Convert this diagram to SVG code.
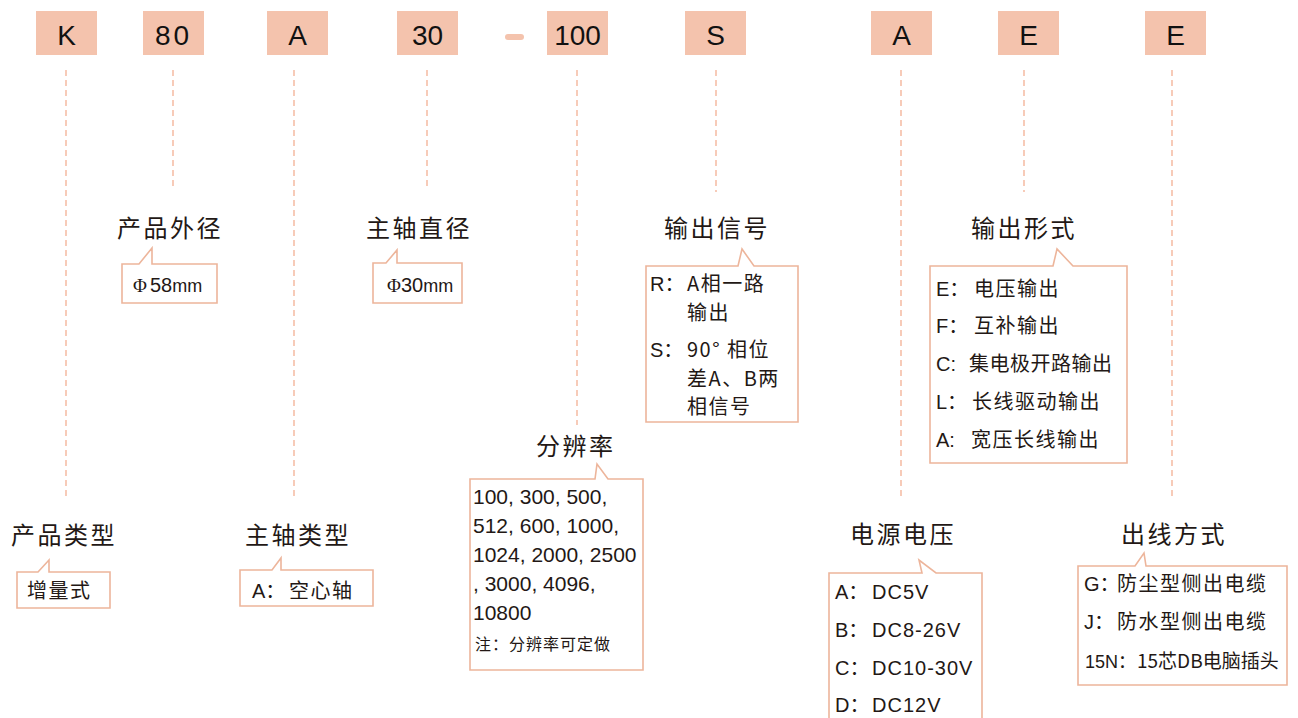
<svg xmlns="http://www.w3.org/2000/svg" width="1298" height="718" viewBox="0 0 1298 718">
<style>
.code{fill:#F4C3AD}
.ct{font-family:"Liberation Sans","DejaVu Sans",sans-serif;font-size:28px;fill:#111;text-anchor:middle}
.dl{stroke:#F2A98A;stroke-width:1.2;stroke-dasharray:6 4;fill:none}
.hd{font-family:"Noto Sans CJK SC","Noto Sans",sans-serif;font-size:24px;fill:#231815;letter-spacing:2.5px}
.cb{fill:#fff;stroke:#EDB59B;stroke-width:1.6}
.tx{font-family:"Liberation Sans","Noto Sans CJK SC",sans-serif;font-size:20px;fill:#231815}
.cj{font-family:"Noto Sans CJK SC","Liberation Sans",sans-serif;font-size:20px;fill:#231815;letter-spacing:1.5px}
.num{font-family:"Liberation Sans",sans-serif;font-size:21px;fill:#231815}
.sm{font-family:"Noto Sans CJK SC",sans-serif;font-size:16px;fill:#231815;letter-spacing:1px}
</style>

<g id="codes">
<rect class="code" x="36" y="11" width="61" height="44"/><text class="ct" x="66.5" y="45">K</text>
<rect class="code" x="143" y="11" width="61" height="44"/><text class="ct" x="173.5" y="45" style="letter-spacing:3px">80</text>
<rect class="code" x="267" y="11" width="61" height="44"/><text class="ct" x="297.5" y="45">A</text>
<rect class="code" x="397" y="11" width="61" height="44"/><text class="ct" x="427.5" y="45">30</text>
<rect class="code" x="505" y="34" width="19" height="6" rx="3"/>
<rect class="code" x="547" y="11" width="61" height="44"/><text class="ct" x="577.5" y="45">100</text>
<rect class="code" x="685" y="11" width="61" height="44"/><text class="ct" x="715.5" y="45">S</text>
<rect class="code" x="871" y="11" width="61" height="44"/><text class="ct" x="901.5" y="45">A</text>
<rect class="code" x="998" y="11" width="61" height="44"/><text class="ct" x="1028.5" y="45">E</text>
<rect class="code" x="1145" y="11" width="61" height="44"/><text class="ct" x="1175.5" y="45">E</text>
</g>

<g id="connectors">
<line class="dl" x1="66" y1="70" x2="66" y2="500"/>
<line class="dl" x1="173" y1="70" x2="173" y2="190"/>
<line class="dl" x1="294" y1="70" x2="294" y2="500"/>
<line class="dl" x1="427" y1="70" x2="427" y2="190"/>
<line class="dl" x1="577" y1="70" x2="577" y2="425"/>
<line class="dl" x1="716" y1="70" x2="716" y2="192"/>
<line class="dl" x1="901" y1="70" x2="901" y2="500"/>
<line class="dl" x1="1024" y1="70" x2="1024" y2="192"/>
<line class="dl" x1="1172" y1="70" x2="1172" y2="500"/>
</g>

<g id="product-type">
<text class="hd" x="11" y="544">产品类型</text>
<path class="cb" d="M17,572 H38 L49,560 V572 H110 V608 H17 Z"/>
<text class="cj" x="27" y="598">增量式</text>
</g>

<g id="outer-diameter">
<text class="hd" x="117" y="237">产品外径</text>
<path class="cb" d="M122,264 H139 L152,248 V264 H217 V303 H122 Z"/>
<text class="tx" x="133" y="292"><tspan style="font-family:'Liberation Serif',serif;font-size:19px">Φ</tspan><tspan dx="3">58</tspan><tspan style="font-size:18px">mm</tspan></text>
</g>

<g id="shaft-type">
<text class="hd" x="245" y="544">主轴类型</text>
<path class="cb" d="M240,570 H272 L281,558 V570 H373 V606 H240 Z"/>
<text class="tx" x="252" y="598">A：</text>
<text class="cj" x="289" y="598">空心轴</text>
</g>

<g id="shaft-diameter">
<text class="hd" x="366" y="237">主轴直径</text>
<path class="cb" d="M373,263 H386 L397,250 V263 H462 V303 H373 Z"/>
<text class="tx" x="387" y="292"><tspan style="font-family:'Liberation Serif',serif;font-size:19px">Φ</tspan><tspan>30</tspan><tspan style="font-size:18px">mm</tspan></text>
</g>

<g id="resolution">
<text class="hd" x="536" y="455">分辨率</text>
<path class="cb" d="M470,479 H595 L597,464 L608,479 H643 V670 H470 Z"/>
<text class="num" x="473" y="504">100, 300, 500,</text>
<text class="num" x="473" y="533">512, 600, 1000,</text>
<text class="num" x="473" y="562">1024, 2000, 2500</text>
<text class="num" x="473" y="591">, 3000, 4096,</text>
<text class="num" x="473" y="620">10800</text>
<text class="sm" x="475" y="650">注：分辨率可定做</text>
</g>

<g id="output-signal">
<text class="hd" x="664" y="237">输出信号</text>
<path class="cb" d="M646,266 H738 L742,249 L754,266 H798 V422 H646 Z"/>
<text class="tx" x="650" y="291">R：</text>
<text class="cj" x="687" y="291">A相一路</text>
<text class="cj" x="687" y="320">输出</text>
<text class="tx" x="650" y="357">S：</text>
<text class="cj" x="687" y="357">90° 相位</text>
<text class="cj" x="687" y="386">差A、B两</text>
<text class="cj" x="687" y="414">相信号</text>
</g>

<g id="supply-voltage">
<text class="hd" x="850" y="543">电源电压</text>
<path class="cb" d="M829,573 H922 L919,560 L936,573 H982 V730 H829 Z"/>
<text class="tx" x="835" y="599">A：</text><text class="tx" x="872" y="599" style="letter-spacing:1px">DC5V</text>
<text class="tx" x="835" y="637">B：</text><text class="tx" x="872" y="637" style="letter-spacing:1px">DC8-26V</text>
<text class="tx" x="835" y="675">C：</text><text class="tx" x="872" y="675" style="letter-spacing:1px">DC10-30V</text>
<text class="tx" x="835" y="712">D：</text><text class="tx" x="872" y="712" style="letter-spacing:1px">DC12V</text>
</g>

<g id="output-form">
<text class="hd" x="971" y="237">输出形式</text>
<path class="cb" d="M930,266 H1053 L1057,249 L1073,266 H1127 V463 H930 Z"/>
<text class="tx" x="936" y="296">E：</text><text class="cj" x="974" y="296">电压输出</text>
<text class="tx" x="936" y="333">F：</text><text class="cj" x="974" y="333">互补输出</text>
<text class="tx" x="936" y="371">C:</text><text class="cj" x="969" y="371" style="letter-spacing:0.5px">集电极开路输出</text>
<text class="tx" x="936" y="409">L：</text><text class="cj" x="972" y="409">长线驱动输出</text>
<text class="tx" x="936" y="447">A:</text><text class="cj" x="971" y="447">宽压长线输出</text>
</g>

<g id="cable-exit">
<text class="hd" x="1121" y="543">出线方式</text>
<path class="cb" d="M1078,566 H1135 L1144,553 L1146,566 H1287 V685 H1078 Z"/>
<text class="tx" x="1084" y="591">G：</text><text class="cj" x="1117" y="591">防尘型侧出电缆</text>
<text class="tx" x="1084" y="629">J：</text><text class="cj" x="1117" y="629">防水型侧出电缆</text>
<text class="tx" x="1085" y="668" style="font-size:18px">15N：</text><text class="cj" x="1137" y="668" style="font-size:19px;letter-spacing:0">15芯DB电脑插头</text>
</g>
</svg>
